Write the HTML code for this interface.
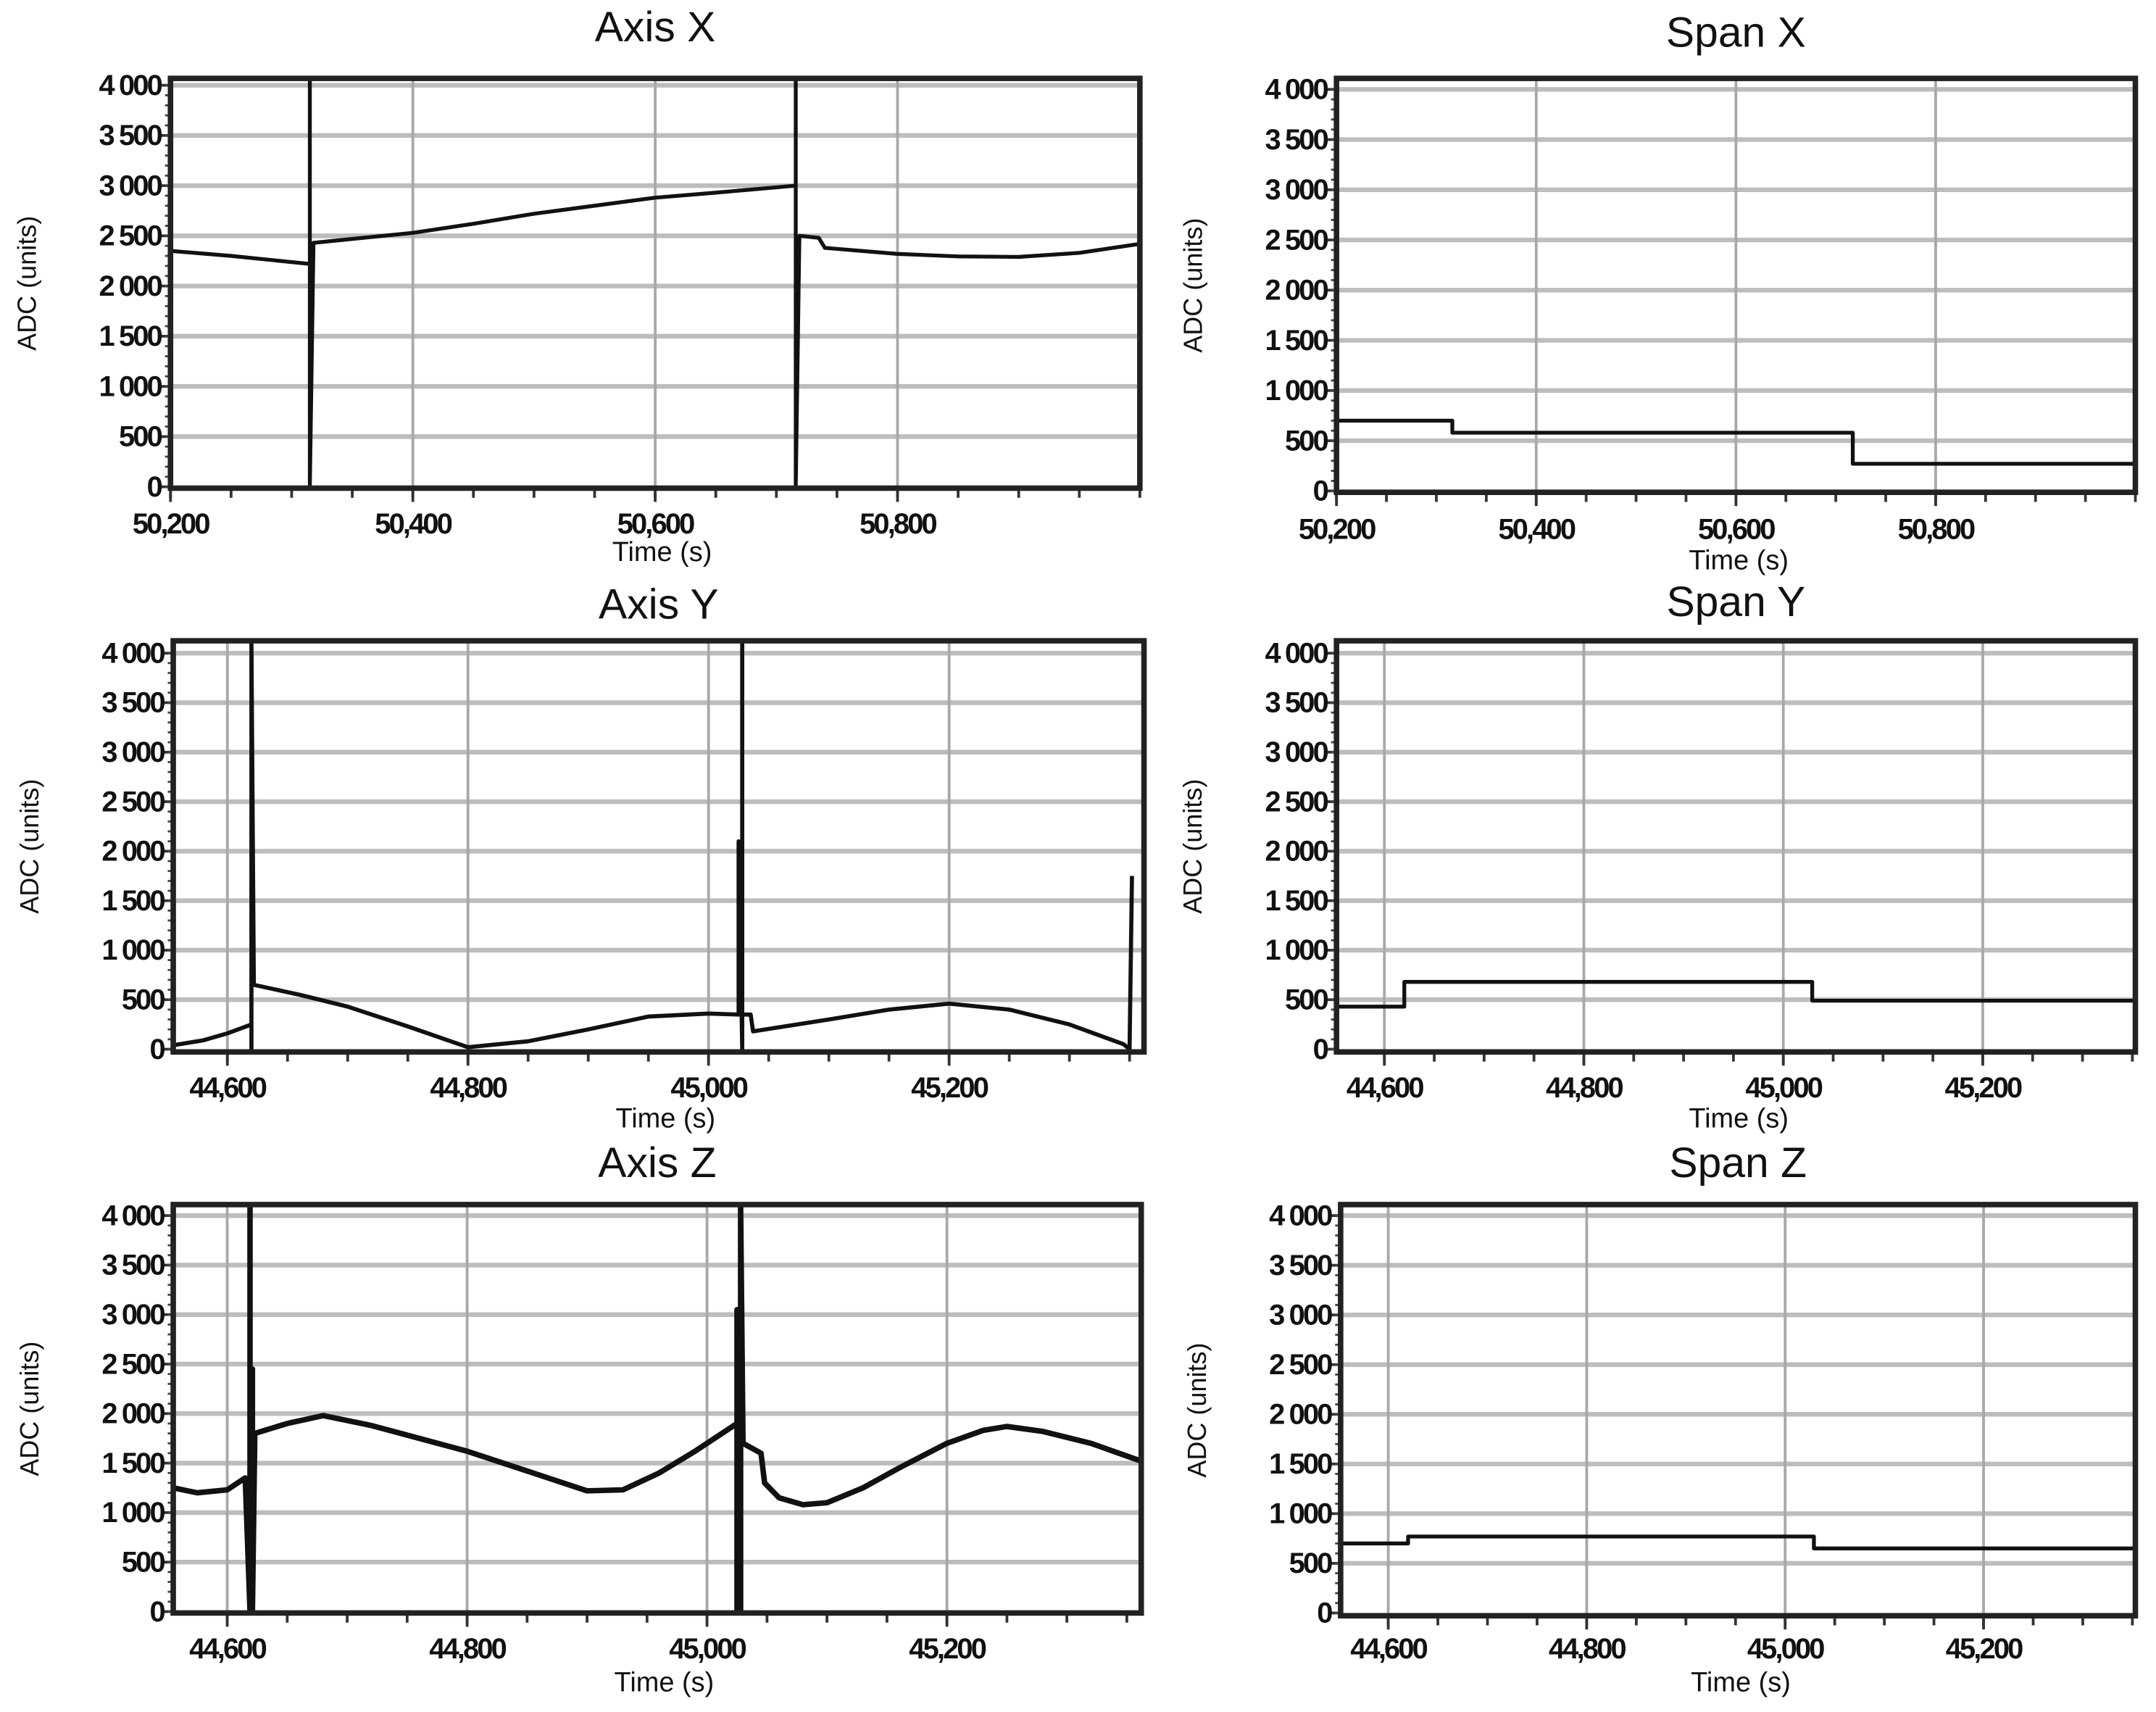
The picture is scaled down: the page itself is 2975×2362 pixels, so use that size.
<!DOCTYPE html>
<html><head><meta charset="utf-8"><style>
html,body{margin:0;padding:0;background:#fff;}
svg{display:block;}
text{font-family:"Liberation Sans",sans-serif;fill:#111;}
</style></head><body>
<svg id="fig" width="2975" height="2362" viewBox="0 0 1568 1245" preserveAspectRatio="none" xmlns="http://www.w3.org/2000/svg"></svg>
<script>
// ---- data ----
const yTicks = [0,500,1000,1500,2000,2500,3000,3500,4000];
const yTickLabels = ["0","500","1 000","1 500","2 000","2 500","3 000","3 500","4 000"];
const xTicksTop = [50200,50400,50600,50800];
const xTickLabelsTop = ["50,200","50,400","50,600","50,800"];
const xTicksLow = [44600,44800,45000,45200];
const xTickLabelsLow = ["44,600","44,800","45,000","45,200"];

const axisXTime = [50200,50250,50315,50315,50315,50315,50318,50400,50450,50500,50550,50600,50650,50716,50716,50716,50719,50735,50740,50800,50850,50900,50950,51000];
const axisXVal  = [2350,2300,2220,0,4100,0,2430,2530,2620,2720,2800,2880,2930,3000,4100,0,2500,2480,2380,2320,2295,2290,2330,2420];

const axisYTime = [44555,44580,44600,44620,44620,44620,44620,44622,44660,44700,44750,44800,44850,44900,44950,45000,45025,45025,45028,45028,45028,45035,45037,45100,45150,45200,45250,45300,45345,45350,45352];
const axisYVal  = [40,90,160,250,2350,0,4100,650,550,430,230,20,80,200,330,360,350,2100,0,4100,350,350,180,300,400,460,400,250,50,0,1750];

const axisZTime = [44555,44575,44600,44615,44619,44619,44619,44621,44621,44623,44650,44680,44720,44760,44800,44850,44900,44930,44960,44990,45025,45025,45025,45028,45028,45030,45045,45048,45060,45080,45100,45130,45160,45200,45230,45250,45280,45320,45362];
const axisZVal  = [1250,1200,1230,1350,0,4100,0,2450,0,1800,1900,1980,1880,1750,1620,1420,1220,1230,1400,1620,1900,0,3050,0,4100,1700,1600,1300,1150,1080,1100,1250,1450,1700,1830,1870,1820,1700,1520];

const spanXTime = [50200,50316,50316,50717,50717,51000];
const spanXVal  = [700,700,580,580,270,270];
const spanYTime = [44552,44620,44620,45029,45029,45353];
const spanYVal  = [430,430,680,680,490,490];
const spanZTime = [44552,44620,44620,45029,45029,45353];
const spanZVal  = [700,700,770,770,650,650];

// ---- layout ----
const panels = [
 {name:"axis-x",title:"Axis X",L:124,R:829,T:57,B:355,y0:354,y4:62,xmin:50200,xmax:51000,ticks:xTicksTop,labels:xTickLabelsTop,t:axisXTime,v:axisXVal,lw:2.8,titleY:30,xl:388,tl:408},
 {name:"span-x",title:"Span X",L:972,R:1553,T:57,B:358,y0:357,y4:65,xmin:50200,xmax:51000,ticks:xTicksTop,labels:xTickLabelsTop,t:spanXTime,v:spanXVal,lw:2.8,titleY:34,xl:392,tl:414},
 {name:"axis-y",title:"Axis Y",L:126,R:832,T:466,B:765,y0:763,y4:475,xmin:44555,xmax:45362,ticks:xTicksLow,labels:xTickLabelsLow,t:axisYTime,v:axisYVal,lw:3,titleY:450,xl:798,tl:820},
 {name:"span-y",title:"Span Y",L:972,R:1553,T:466,B:765,y0:763,y4:475,xmin:44552,xmax:45353,ticks:xTicksLow,labels:xTickLabelsLow,t:spanYTime,v:spanYVal,lw:2.8,titleY:448,xl:798,tl:820},
 {name:"axis-z",title:"Axis Z",L:126,R:830,T:876,B:1173,y0:1172,y4:884,xmin:44555,xmax:45362,ticks:xTicksLow,labels:xTickLabelsLow,t:axisZTime,v:axisZVal,lw:4,titleY:856,xl:1206,tl:1230},
 {name:"span-z",title:"Span Z",L:975,R:1553,T:876,B:1175,y0:1173,y4:884,xmin:44552,xmax:45353,ticks:xTicksLow,labels:xTickLabelsLow,t:spanZTime,v:spanZVal,lw:2.8,titleY:856,xl:1206,tl:1230}
];

const NS="http://www.w3.org/2000/svg";
const svg=document.getElementById('fig');
function mk(tag,attrs,parent){const e=document.createElementNS(NS,tag);for(const k in attrs)e.setAttribute(k,attrs[k]);parent.appendChild(e);return e;}

panels.forEach(p=>{
  const g=mk('g',{},svg);
  
  
  const xs=v=>p.L+(v-p.xmin)/(p.xmax-p.xmin)*(p.R-p.L);
  const ys=v=>p.y0-(v/4000)*(p.y0-p.y4);
  const cx=(p.L+p.R)/2;
  const title=mk('text',{x:cx,y:p.titleY,'text-anchor':'middle','font-size':31},g);
  title.textContent=p.title;
  
  
  yTicks.forEach((t,i)=>{
    const y=ys(t);
    if(t>0){
      const gl=mk('line',{x1:p.L,x2:p.R,y1:y,y2:y,stroke:'#bdbdbd','stroke-width':3.4},g);
      
      
    }
    mk('line',{x1:p.L-7,x2:p.L,y1:y,y2:y,stroke:'#333','stroke-width':2},g);
    const tl=mk('text',{x:p.L-7,y:y+7,'text-anchor':'end','font-size':21,'font-weight':'bold','letter-spacing':'-1.5'},g);
    tl.textContent=yTickLabels[i];
    
    
  });
  for(let v=0;v<=4000;v+=100){const y=ys(v);mk('line',{x1:p.L-4,x2:p.L,y1:y,y2:y,stroke:'#444','stroke-width':1.5},g);}
  p.ticks.forEach((t,i)=>{
    const x=xs(t);
    const gl=mk('line',{x1:x,x2:x,y1:p.T,y2:p.B,stroke:'#a8a8a8','stroke-width':2},g);
    
    
    mk('line',{x1:x,x2:x,y1:p.B,y2:p.B+10,stroke:'#333','stroke-width':2},g);
    const tl=mk('text',{x:x,y:p.xl,'text-anchor':'middle','font-size':21,'font-weight':'bold','letter-spacing':'-1.5'},g);
    tl.textContent=p.labels[i];
    
    
  });
  for(let v=Math.ceil(p.xmin/50)*50; v<=p.xmax; v+=50){const x=xs(v);mk('line',{x1:x,x2:x,y1:p.B,y2:p.B+7,stroke:'#333','stroke-width':2},g);}
  let d='';
  p.t.forEach((t,i)=>{d+=(i?'L':'M')+xs(t).toFixed(2)+' '+Math.max(p.T,Math.min(p.B,ys(p.v[i]))).toFixed(2)+' ';});
  const path=mk('path',{d:d,fill:'none',stroke:'#111','stroke-width':p.lw,'stroke-linejoin':'round'},g);
  
  
  const fr=mk('rect',{x:p.L,y:p.T,width:p.R-p.L,height:p.B-p.T,fill:'none',stroke:'#222','stroke-width':4},g);
  
  
  const xt=mk('text',{x:cx+(p.name.startsWith('axis')?5:2),y:p.tl,'text-anchor':'middle','font-size':20},g);
  xt.textContent='Time (s)';
  
  
  const yy=(p.T+p.B)/2;
  const yx=p.L-98;
  const yt=mk('text',{x:yx,y:yy,'text-anchor':'middle','font-size':19,transform:'rotate(-90 '+yx+' '+yy+')'},g);
  yt.textContent='ADC (units)';
  
  
});
</script>
</body></html>
